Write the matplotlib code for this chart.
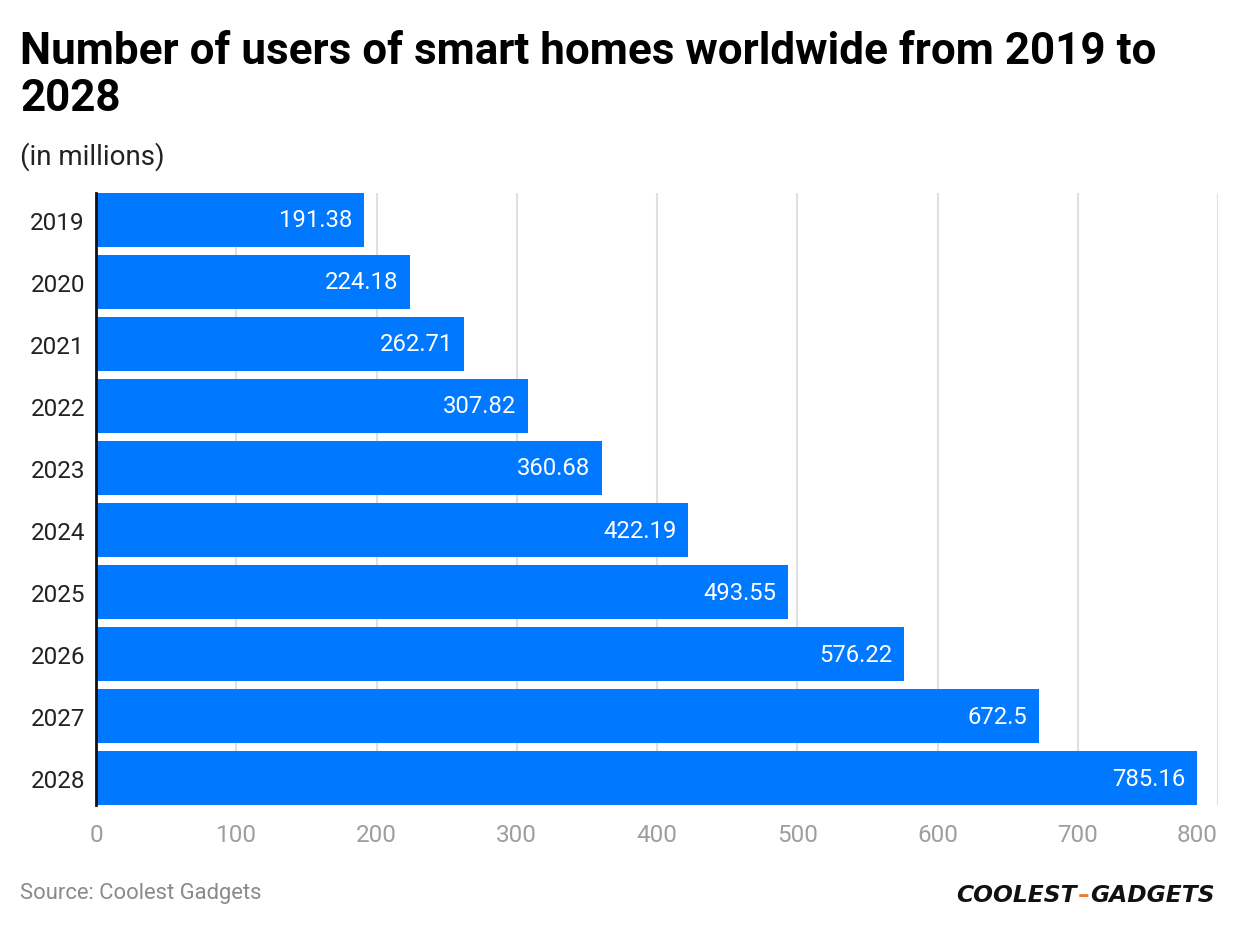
import matplotlib
matplotlib.use("Agg")
import matplotlib.pyplot as plt

years = ["2019", "2020", "2021", "2022", "2023", "2024", "2025", "2026", "2027", "2028"]
users = [191.38, 224.18, 262.71, 307.82, 360.68, 422.19, 493.55, 576.22, 672.5, 785.16]
value_labels = ["191.38", "224.18", "262.71", "307.82", "360.68", "422.19", "493.55", "576.22", "672.5", "785.16"]
xticks = [0, 100, 200, 300, 400, 500, 600, 700, 800]

plt.rcParams['font.family'] = ['Roboto', 'DejaVu Sans']

W, H = 1240, 928
fig = plt.figure(figsize=(W / 100, H / 100), dpi=100)
fig.patch.set_facecolor("white")

ax_left, ax_right, ax_top, ax_bottom = 96, 1218, 194, 806
ax = fig.add_axes([ax_left / W, 1 - ax_bottom / H, (ax_right - ax_left) / W, (ax_bottom - ax_top) / H])

bar_h = 0.87
ypos = list(range(len(years)))
ax.barh(ypos, users, height=bar_h, color="#0078FF", zorder=3)
ax.set_ylim(len(years) - 1 + bar_h / 2, -bar_h / 2)
ax.set_xlim(0, 800)
ax.set_yticks(ypos)
ax.set_yticklabels(years, fontsize=17.5, color="#222222")
ax.set_xticks(xticks)
ax.set_xticklabels([str(t) for t in xticks], fontsize=17.5, color="#9e9e9e")
ax.get_xticklabels()[-1].set_horizontalalignment("right")
ax.tick_params(axis="both", length=0)
ax.tick_params(axis="y", pad=8)
ax.tick_params(axis="x", pad=13)

for s in ["top", "right", "bottom"]:
    ax.spines[s].set_visible(False)
ax.spines["left"].set_linewidth(2)
ax.spines["left"].set_color("#111111")
ax.spines["left"].set_zorder(5)

ax.grid(axis="x", color="#e0e0e0", linewidth=1.5, zorder=0)
ax.set_axisbelow(True)

for y, v, lab in zip(ypos, users, value_labels):
    ax.text(v - 8.3, y, lab, ha="right", va="center", color="white", fontsize=17.2, zorder=4)

fig.text(20 / W, 1 - 31 / H, "Number of users of smart homes worldwide from 2019 to\n2028",
         ha="left", va="top", fontsize=31.7, fontweight="bold", color="#000000", linespacing=1.16)
fig.text(20 / W, 1 - 157 / H, "(in millions)", ha="left", va="center", fontsize=20, color="#222222")
fig.text(20 / W, 1 - 894 / H, "Source: Coolest Gadgets", ha="left", va="center", fontsize=15.8, color="#8a8a8a")

# logo
fig.text(1077 / W, 1 - 896 / H, "COOLEST", ha="right", va="center", fontsize=16.8, fontweight="heavy",
         fontstyle="italic", color="#111111", family=["DejaVu Sans"])
fig.text(1084 / W, 1 - 896 / H, "\u2013", ha="center", va="center", fontsize=16.8, fontweight="heavy",
         color="#F07830", family=["DejaVu Sans"])
fig.text(1090 / W, 1 - 896 / H, "GADGETS", ha="left", va="center", fontsize=16.8, fontweight="heavy",
         fontstyle="italic", color="#111111", family=["DejaVu Sans"])

fig.savefig("out.png", dpi=100, facecolor="white")
